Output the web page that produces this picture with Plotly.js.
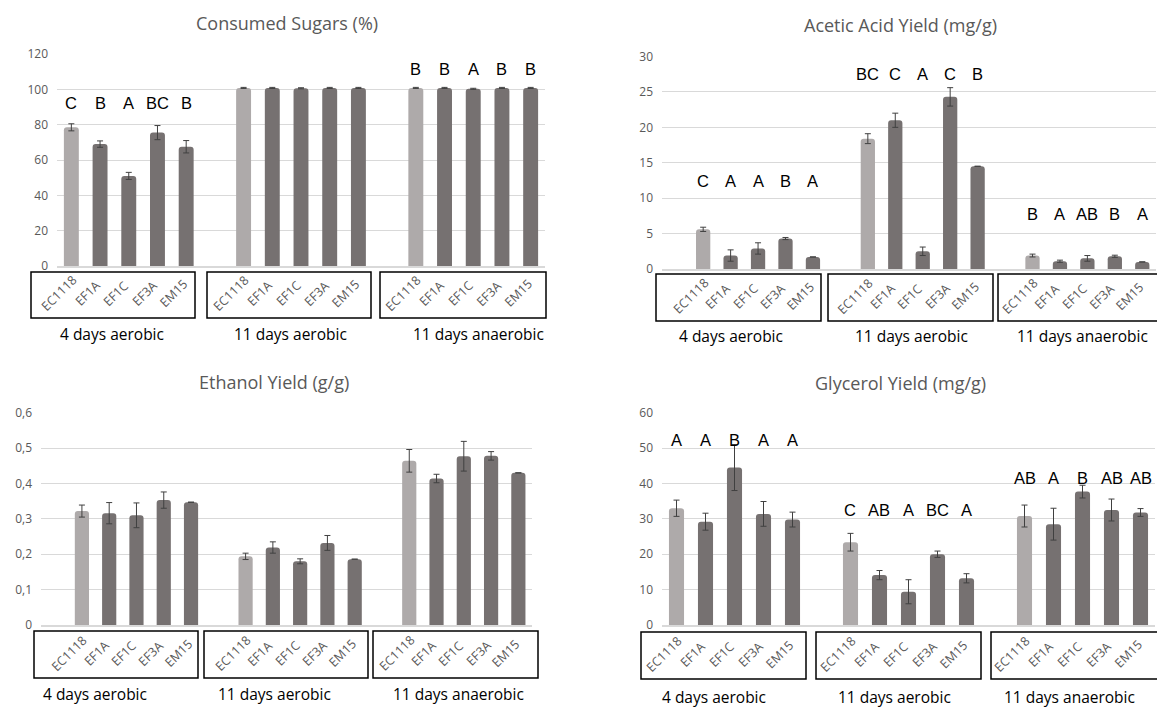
<!DOCTYPE html>
<html>
<head>
<meta charset="utf-8">
<script src="https://cdn.plot.ly/plotly-3.0.1.min.js"></script>
<style>
html,body{margin:0;padding:0;background:#fff;}
#chart{width:1157px;height:707px;}
</style>
</head>
<body>
<div id="chart"></div>
<script>
// ---------- DATA ----------
const strains = ['EC1118', 'EF1A', 'EF1C', 'EF3A', 'EM15'];
const conditions = ['4 days aerobic', '11 days aerobic', '11 days anaerobic'];

const sugarsTitle = 'Consumed Sugars (%)';
const sugars = [[78.5, 69, 51, 75.5, 67.5], [100.8, 100.8, 100.6, 100.8, 100.8], [100.8, 100.8, 100.3, 100.8, 100.8]];
const sugarsErr = [[2, 1.8, 2, 4, 3.5], [0.3, 0.3, 0.3, 0.3, 0.3], [0.3, 0.3, 0.3, 0.3, 0.3]];
const sugarsLetters = [['C', 'B', 'A', 'BC', 'B'], null, ['B', 'B', 'A', 'B', 'B']];

const aceticTitle = 'Acetic Acid Yield (mg/g)';
const acetic = [[5.6, 1.9, 2.9, 4.3, 1.7], [18.4, 21.0, 2.5, 24.3, 14.5], [1.9, 1.1, 1.5, 1.8, 1.0]];
const aceticErr = [[0.3, 0.8, 0.8, 0.15, 0], [0.7, 1.0, 0.6, 1.3, 0], [0.2, 0.15, 0.4, 0.15, 0]];
const aceticLetters = [['C', 'A', 'A', 'B', 'A'], ['BC', 'C', 'A', 'C', 'B'], ['B', 'A', 'AB', 'B', 'A']];

const ethanolTitle = 'Ethanol Yield (g/g)';
const ethanol = [[0.322, 0.316, 0.31, 0.353, 0.347], [0.194, 0.219, 0.18, 0.232, 0.186], [0.464, 0.414, 0.477, 0.478, 0.43]];
const ethanolErr = [[0.017, 0.03, 0.035, 0.023, 0], [0.009, 0.016, 0.007, 0.021, 0], [0.032, 0.012, 0.042, 0.012, 0]];

const glycerolTitle = 'Glycerol Yield (mg/g)';
const glycerol = [[33.0, 29.2, 44.5, 31.4, 29.8], [23.4, 14.1, 9.4, 20.0, 13.2], [30.8, 28.5, 37.7, 32.5, 31.8]];
const glycerolErr = [[2.3, 2.4, 6.5, 3.5, 2.1], [2.5, 1.3, 3.4, 0.9, 1.3], [3.1, 4.5, 1.8, 3.1, 1.1]];
const glycerolLetters = [['A', 'A', 'B', 'A', 'A'], ['C', 'AB', 'A', 'BC', 'A'], ['AB', 'A', 'B', 'AB', 'AB']];

// ---------- HELPERS ----------
const W = 1157, H = 707;
const PX = p => p / W;
const PY = p => 1 - p / H;
const colorEC = '#AEAAAA', colorOther = '#767171';
const gray = '#595959';
const TXT = 'Open Sans, sans-serif';

const slots = [], tickText = [];
conditions.forEach((c, g) => strains.forEach((s, i) => { slots.push(g * 6 + i); tickText.push(s); }));
const colors = slots.map((_, k) => (k % 5 === 0 ? colorEC : colorOther));
const flat = a => a.reduce((r, x) => r.concat(x), []);
const suf = n => (n === 1 ? '' : String(n));

function barTrace(vals, errs, n) {
  return {
    type: 'bar', x: slots, y: flat(vals),
    xaxis: 'x' + suf(n), yaxis: 'y' + suf(n),
    marker: { color: colors, cornerradius: 3, line: { width: 0 } },
    error_y: { type: 'data', array: flat(errs), visible: true, color: '#404040', thickness: 1, width: 3 },
    hoverinfo: 'x+y'
  };
}

const data = [
  barTrace(sugars, sugarsErr, 1),
  barTrace(acetic, aceticErr, 2),
  barTrace(ethanol, ethanolErr, 3),
  barTrace(glycerol, glycerolErr, 4)
];

function xAxis(l, r, range, anchor) {
  return {
    domain: [PX(l), PX(r)], range: range, anchor: anchor,
    tickmode: 'array', tickvals: slots, ticktext: tickText, showticklabels: false,
    showgrid: false, zeroline: false, showline: true, linecolor: '#D9D9D9', linewidth: 1.5,
    ticks: '', fixedrange: true
  };
}
function yAxis(top, bottom, range, dtick, anchor) {
  return {
    domain: [PY(bottom), PY(top)], range: range, dtick: dtick, anchor: anchor,
    tickfont: { family: TXT, size: 12, color: gray },
    showgrid: true, gridcolor: '#D9D9D9', gridwidth: 1, zeroline: false, showline: false,
    ticks: '', ticklabelstandoff: 8, fixedrange: true
  };
}

const annotations = [];
const shapes = [];
function title(text, cx, cy) {
  annotations.push({ text: text, xref: 'paper', yref: 'paper', x: PX(cx), y: PY(cy), xanchor: 'center', yanchor: 'middle',
    showarrow: false, font: { family: TXT, size: 18, color: gray } });
}
function letters(arr, n, ys) {
  arr.forEach((grp, g) => {
    if (!grp) return;
    grp.forEach((t, i) => annotations.push({ text: t, xref: 'x' + suf(n), yref: 'y' + suf(n),
      x: g * 6 + i, y: ys[g], showarrow: false, xanchor: 'center', yanchor: 'middle',
      font: { family: 'Liberation Sans, Arial, sans-serif', size: 16.5, color: '#000' } }));
  });
}
function tickLabels(n, cy) {
  slots.forEach((s, k) => annotations.push({ text: tickText[k], xref: 'x' + suf(n), yref: 'paper',
    x: s, y: PY(cy), xshift: -13, textangle: -45, showarrow: false, xanchor: 'center', yanchor: 'middle',
    font: { family: TXT, size: 12.5, color: gray } }));
}
function groupLabel(text, cx, cy, anchor) {
  annotations.push({ text: text, xref: 'paper', yref: 'paper', x: PX(cx), y: PY(cy), xanchor: anchor || 'center', yanchor: 'middle',
    showarrow: false, font: { family: TXT, size: 15.5, color: '#000' } });
}
function box(l, r, t, b) {
  shapes.push({ type: 'rect', xref: 'paper', yref: 'paper', x0: PX(l), x1: PX(r), y0: PY(b), y1: PY(t),
    line: { color: '#000', width: 1.5 }, fillcolor: 'rgba(0,0,0,0)' });
}

// Panel 1
title(sugarsTitle, 287, 23);
letters(sugarsLetters, 1, [92.3, null, 111.5]);
tickLabels(1, 293);
box(31, 195, 272, 318); box(207, 371, 272, 318); box(380, 546, 272, 318);
groupLabel(conditions[0], 58, 334, 'left'); groupLabel(conditions[1], 290, 334); groupLabel(conditions[2], 478, 334);

// Panel 2
title(aceticTitle, 900, 25);
letters(aceticLetters, 2, [12.4, 27.5, 7.75]);
tickLabels(2, 296);
box(656, 821, 274, 321); box(828, 993, 274, 321); box(998, 1160, 274, 321);
groupLabel(conditions[0], 677, 336, 'left'); groupLabel(conditions[1], 911, 336); groupLabel(conditions[2], 1082, 336);

// Panel 3
title(ethanolTitle, 274, 382);
tickLabels(3, 653);
box(34, 198, 631, 678); box(204, 368, 631, 678); box(373, 538, 631, 678);
groupLabel(conditions[0], 41, 694, 'left'); groupLabel(conditions[1], 274, 694); groupLabel(conditions[2], 458, 694);

// Panel 4
title(glycerolTitle, 900, 383);
letters(glycerolLetters, 4, [52.3, 32.5, 41.5]);
tickLabels(4, 654);
box(641, 806, 632, 679); box(816, 981, 632, 679); box(991, 1160, 632, 679);
groupLabel(conditions[0], 714, 697); groupLabel(conditions[1], 894, 697); groupLabel(conditions[2], 1069, 697);

const layout = {
  width: W, height: H, margin: { l: 0, r: 0, t: 0, b: 0 },
  paper_bgcolor: '#fff', plot_bgcolor: '#fff', showlegend: false,
  separators: ',.', bargap: 0.48,
  font: { family: TXT, color: gray },
  xaxis: xAxis(57, 545, [-0.5, 16.5], 'y'),
  yaxis: yAxis(54, 266, [0, 120], 20, 'x'),
  xaxis2: xAxis(662, 1156, [-1.5, 16.5], 'y2'),
  yaxis2: yAxis(56.5, 269, [0, 30], 5, 'x2'),
  xaxis3: xAxis(41, 532, [-1.5, 16.5], 'y3'),
  yaxis3: yAxis(412.7, 625, [0, 0.6], 0.1, 'x3'),
  xaxis4: xAxis(662, 1155, [-0.5, 16.5], 'y4'),
  yaxis4: yAxis(412.7, 625, [0, 60], 10, 'x4'),
  annotations: annotations,
  shapes: shapes
};

Plotly.newPlot('chart', data, layout, { displayModeBar: false, staticPlot: true });
</script>
</body>
</html>
